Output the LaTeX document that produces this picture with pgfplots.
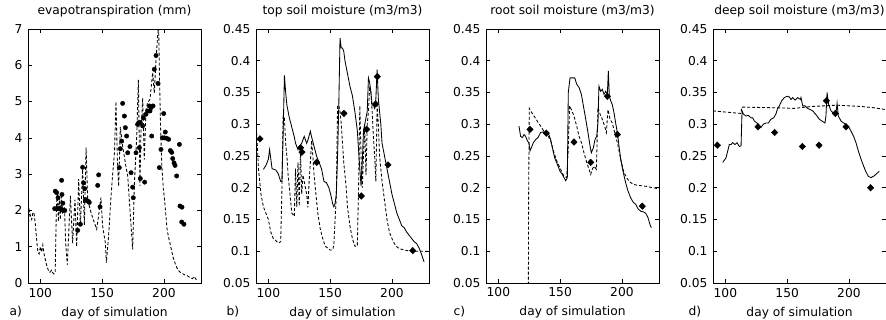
\documentclass[border=0pt]{standalone}
\usepackage{fontspec}
\setmainfont{DejaVu Sans}
\usepackage{pgfplots}
\pgfplotsset{compat=1.18}
\pgfplotsset{
  panel/.style={
    scale only axis, width=173bp, height=254bp, anchor=south west,
    xmin=90, xmax=230, xtick={100,150,200}, xticklabels={100,150,200},
    tick align=inside, major tick length=4bp,
    axis line style={line width=0.6bp},
    every tick/.style={black, line width=0.6bp},
    tick label style={font=\fontsize{12.3}{14}\selectfont},
    xticklabel style={anchor=base, yshift=-14bp},
    yticklabel style={anchor=east, xshift=-2bp},
    title style={at={(axis description cs:0.5,1)}, anchor=base, yshift=9bp, font=\fontsize{12.3}{14}\selectfont},
    xlabel={day of simulation},
    xlabel style={at={(axis description cs:0.5,0)}, anchor=base, yshift=-33bp, font=\fontsize{12.3}{14}\selectfont},
    /pgf/number format/assume math mode=true,
  },
  soil/.style={ymin=0.05, ymax=0.45,
    ytick={0.05,0.1,0.15,0.2,0.25,0.3,0.35,0.4,0.45},
    yticklabels={0.05,0.1,0.15,0.2,0.25,0.3,0.35,0.4,0.45}},
  dline/.style={black, line width=0.85bp, dash pattern=on 3bp off 2bp, mark=none},
  sline/.style={black, line width=0.85bp, mark=none},
  obs/.style={only marks, mark=diamond*, mark size=3.3bp, mark options={solid, fill=black, draw=black, xscale=1.3}},
}
\begin{document}
\begin{tikzpicture}
\path[use as bounding box] (0,0) rectangle (886bp,320bp);

% ---------------- a) evapotranspiration
\begin{axis}[panel, at={(28bp,37bp)}, title={evapotranspiration (mm)},
  ymin=0, ymax=7, ytick={0,1,2,3,4,5,6,7}, yticklabels={0,1,2,3,4,5,6,7}]
\addplot[dline] coordinates {
(90,1.4)(91,2.0)(92,1.85)(93,1.75)(94,1.95)(95,1.9)(96,1.6)(97,1.2)(98,0.85)(99,0.8)
(100,1.0)(101,0.85)(102,1.05)(103,0.8)(104,0.65)(105,0.5)(106,0.4)(107,0.3)(108,0.3)
(109,0.35)(110,0.28)(111,0.25)(112,0.3)(113,2.1)(113.8,2.5)(114.6,1.7)(115.4,2.35)
(116.2,1.75)(117,2.45)(118,1.95)(119.5,2.1)(120.5,1.1)(121.8,0.5)(124.3,2.4)(126.1,1.1)
(128,2.3)(129.4,1.0)(131,2.86)(132.4,1.57)(134.2,3.13)(135.6,1.6)(137,3.73)(138.3,2.3)
(141,1.94)(143.7,1.66)(145.6,1.48)(147.7,2.0)(149,2.35)(150.4,1.57)(152.6,1.1)(153.4,0.56)
(155,1.2)(155.8,1.6)(157,2.3)(158.5,3.0)(160,3.6)(161.2,5.0)(162.3,3.4)(163.4,2.67)
(164.7,4.3)(166.6,3.77)(169.3,3.2)(170.7,2.95)(173.4,1.57)(174.7,0.93)(176,2.67)(178,4.05)
(179.3,5.6)(180.6,2.67)(181.4,4.14)(182.8,5.1)(184.1,3.4)(185.5,4.78)(186.8,4.97)(188.7,5.06)
(190.9,5.8)(192.2,5.24)(193.6,6.16)(194.9,6.8)(195.7,7.1)(196.5,5.5)(197.3,4.3)(198.2,3.3)
(199.5,2.6)(200.5,2.3)(201.5,1.9)(202.5,1.5)(203.5,1.3)(204.5,1.15)(205.5,1.0)(206.5,0.85)
(207.5,0.7)(208.5,0.6)(209.5,0.5)(210.5,0.42)(211.5,0.36)(213,0.3)(215,0.26)(217,0.22)
(219,0.2)(221,0.15)(223,0.12)(224.5,0.18)(226,0.1)(228,0.08)
};
\addplot[only marks, mark=*, mark size=2.2bp, black] coordinates {
(112.1,2.53)(113.2,2.49)(114.3,2.35)(111.6,2.05)(114.0,2.05)(115.5,2.05)(117.2,2.83)
(117.5,2.44)(118.2,2.2)(117.0,2.03)(118.5,2.0)(119.8,2.0)(130.2,1.45)(132.4,1.62)
(134.2,3.19)(135.0,2.76)(135.9,2.6)(136.4,2.3)(137.7,2.27)(138.8,2.25)(139.6,2.22)
(146.4,2.69)(147.2,2.98)(148.3,2.1)
(163.9,3.18)(164.7,3.7)(165.8,3.91)(166.6,4.95)(168,4.6)(168.8,4.28)(169.8,4.05)
(170.7,3.59)(172.5,3.76)(173.4,3.04)(174.7,2.64)(175.2,2.35)(177.4,3.59)(178.7,4.37)
(179.6,4.42)(180.9,4.42)(180.1,3.73)(180.9,2.88)(182.8,4.33)(183.3,4.55)(184.4,2.78)
(185.5,4.65)(186.8,4.74)(188.2,4.88)(188.7,4.74)(189.5,4.83)(190.1,4.05)(191.2,4.88)
(192.2,5.89)(193.6,6.27)(195.2,5.5)(196.3,3.18)(197.6,3.68)(198.7,4.0)(199.8,4.67)
(200.3,4.0)(201.1,4.16)(202.2,3.99)(203.8,3.96)(205.2,3.65)(206.3,3.6)(207.1,3.43)
(208.2,3.31)(209,3.24)(210.3,2.95)(212.5,3.82)(213,2.12)(214.6,2.09)(214.4,1.68)(216.2,1.62)
};
\end{axis}

% ---------------- b) top soil moisture
\begin{axis}[panel, soil, at={(256bp,37bp)}, title={top soil moisture (m3/m3)}]
\addplot[sline] coordinates {
(96,0.229)(98,0.235)(100,0.245)(101,0.26)(102,0.245)(103,0.23)(106,0.228)(108,0.222)
(110,0.21)(111,0.21)(112,0.289)(113,0.377)(114,0.35)(115,0.33)(117,0.31)(119,0.295)
(121,0.28)(122,0.27)(124,0.26)(125,0.265)(127,0.27)(129,0.281)(131,0.27)(132,0.275)
(134,0.289)(135,0.28)(137,0.265)(139,0.25)(141,0.24)(143,0.23)(145,0.21)(147,0.208)
(149,0.2)(151,0.185)(152,0.175)(153,0.17)(154,0.175)(155,0.19)(156,0.25)(157,0.33)
(158,0.436)(159,0.42)(160,0.42)(161,0.415)(162,0.4)(164,0.38)(166,0.36)(168,0.345)
(170,0.32)(172,0.29)(173,0.26)(174,0.23)(175,0.203)(176,0.24)(177,0.29)(178,0.3)
(179,0.31)(180,0.32)(181,0.373)(182,0.365)(183,0.35)(184,0.33)(185,0.33)(186,0.325)
(187,0.34)(188,0.386)(189,0.34)(190,0.32)(191,0.3)(192,0.27)(194,0.25)(196,0.23)
(198,0.21)(200,0.19)(202,0.175)(204,0.16)(206,0.15)(208,0.14)(210,0.137)(212,0.13)
(214,0.125)(216,0.12)(218,0.115)(220,0.112)(222,0.105)(224,0.095)(226,0.083)
};
\addplot[dline] coordinates {
(90,0.302)(91,0.27)(92,0.23)(94,0.19)(96,0.17)(98,0.16)(100,0.15)(102,0.13)(104,0.12)
(106,0.117)(108,0.113)(110,0.115)(111,0.2)(112,0.313)(113,0.31)(114,0.27)(115,0.25)
(116,0.22)(117,0.2)(118,0.18)(119,0.16)(121,0.155)(122,0.23)(123,0.17)(124,0.24)
(125,0.171)(126,0.26)(127,0.19)(128,0.22)(129,0.21)(130,0.2)(131,0.19)(132,0.169)
(133,0.21)(134,0.24)(135,0.274)(136,0.25)(137,0.22)(138,0.2)(139,0.18)(140,0.16)
(142,0.135)(144,0.12)(146,0.108)(148,0.105)(150,0.102)(152,0.102)(153,0.11)(154,0.15)
(155,0.187)(156,0.329)(157,0.33)(158,0.32)(159,0.3)(160,0.27)(161,0.24)(162,0.22)
(163,0.2)(164,0.17)(166,0.14)(168,0.12)(170,0.108)(172,0.108)(173,0.2)(174,0.329)
(175,0.25)(176,0.2)(177,0.25)(178,0.3)(179,0.22)(180,0.3)(181,0.32)(182,0.36)(183,0.35)
(184,0.32)(185,0.28)(186,0.25)(187,0.21)(188,0.33)(189,0.3)(190,0.25)(192,0.21)
(194,0.18)(196,0.15)(198,0.13)(200,0.12)(202,0.112)(204,0.107)(206,0.104)(210,0.102)
(215,0.1)(220,0.1)(225,0.1)(230,0.1)
};
\addplot[obs] coordinates {
(93.2,0.277)(126.1,0.263)(127.2,0.256)(139.1,0.24)(161.2,0.317)(175.2,0.187)
(179.6,0.292)(186.8,0.332)(188.2,0.375)(196.8,0.236)(216.8,0.101)
};
\end{axis}

% ---------------- c) root soil moisture
\begin{axis}[panel, soil, at={(486bp,37bp)}, title={root soil moisture (m3/m3)}]
\addplot[sline] coordinates {
(116.7,0.297)(118,0.281)(119.4,0.279)(120.8,0.284)(122,0.281)(123.5,0.274)(124.8,0.27)
(125.6,0.258)(126.7,0.263)(128.3,0.271)(130.2,0.276)(132.1,0.279)(134.2,0.287)(136.4,0.288)
(138.3,0.284)(140.2,0.287)(142.3,0.276)(143.7,0.263)(145.6,0.247)(147.7,0.237)(149.9,0.226)
(151.8,0.221)(153.1,0.216)(154.5,0.211)(155.8,0.216)(156.6,0.35)(158,0.373)(159.9,0.373)
(161.8,0.373)(163.4,0.363)(165.3,0.358)(167.2,0.347)(168.8,0.329)(170.7,0.308)(172.5,0.287)
(174.2,0.266)(175.2,0.255)(176.9,0.263)(178.2,0.276)(179.6,0.281)(180.6,0.302)(181.4,0.36)
(182.8,0.352)(184.1,0.355)(185.5,0.347)(186.8,0.352)(188.2,0.347)(189,0.384)(189.8,0.344)
(190.9,0.337)(192.2,0.331)(193.6,0.318)(194.9,0.302)(196.3,0.287)(197.6,0.266)(199,0.245)
(201.1,0.224)(203,0.208)(204.9,0.195)(207.1,0.184)(209.2,0.177)(211.1,0.174)(213,0.167)
(215.2,0.163)(217.3,0.162)(219.2,0.16)(221.1,0.153)(222.7,0.142)(223.8,0.137)
};
\addplot[dline] coordinates {
(124.2,0.0)(124.5,0.19)(125,0.325)(126.1,0.321)(128.8,0.313)(131.5,0.305)(134.2,0.297)
(136.9,0.289)(139.6,0.284)(142.3,0.274)(145,0.255)(147.7,0.24)(150.4,0.229)(153.1,0.218)
(155.3,0.216)(156.4,0.255)(157.7,0.329)(159.1,0.323)(161.2,0.313)(163.4,0.297)(165.3,0.281)
(167.2,0.271)(169.3,0.255)(171.5,0.24)(173.4,0.229)(174.7,0.221)(176,0.229)(177.4,0.234)
(179.3,0.229)(180.6,0.326)(182.3,0.316)(184.1,0.308)(186,0.297)(187.4,0.287)(188.7,0.323)
(190.4,0.308)(192.2,0.302)(194.1,0.287)(196.3,0.271)(199,0.245)(201.6,0.224)(204.4,0.214)
(207.1,0.208)(209.8,0.205)(212.5,0.204)(216.5,0.203)(220.6,0.202)(224.6,0.2)(228.1,0.199)(230,0.199)
};
\addplot[obs] coordinates {
(125.6,0.292)(138.8,0.286)(161.2,0.272)(174.7,0.24)(188.2,0.344)(196.3,0.284)(216.5,0.171)
};
\end{axis}

% ---------------- d) deep soil moisture
\begin{axis}[panel, soil, at={(713bp,37bp)}, title={deep soil moisture (m3/m3)}]
\addplot[sline] coordinates {
(97.8,0.24)(100.5,0.247)(103.2,0.268)(104.5,0.268)(105.9,0.271)(107.8,0.268)(109.4,0.271)
(111.3,0.265)(112.7,0.266)(113.5,0.321)(114.6,0.316)(116.7,0.313)(118.6,0.314)(120.8,0.31)
(122.1,0.31)(123.5,0.305)(125.6,0.302)(127.5,0.297)(128.8,0.295)(130.7,0.3)(132.9,0.302)
(134.8,0.302)(136.9,0.308)(139.1,0.31)(140.9,0.316)(142.3,0.325)(143.7,0.329)(145.6,0.337)
(147.7,0.342)(149.9,0.344)(151.8,0.343)(153.1,0.339)(154.5,0.342)(156.4,0.338)(158.5,0.342)
(160.7,0.339)(161.2,0.342)(162.6,0.329)(164.5,0.329)(166.6,0.325)(168.8,0.323)(170.7,0.321)
(172.5,0.317)(174.2,0.313)(176,0.308)(178.2,0.305)(180.6,0.302)(181.4,0.313)(182.3,0.35)
(182.8,0.342)(183.6,0.331)(185.5,0.321)(187.7,0.317)(189.5,0.317)(190.4,0.333)(191.4,0.313)
(193.6,0.305)(195.7,0.302)(197.6,0.3)(199.5,0.297)(201.7,0.289)(203.8,0.281)(205.7,0.271)
(207.6,0.258)(209.8,0.245)(211.9,0.234)(213.8,0.225)(215.7,0.218)(217.8,0.216)(219.9,0.218)
(221.8,0.221)(224.5,0.226)
};
\addplot[dline] coordinates {
(90,0.321)(112.7,0.317)(113.2,0.327)(140,0.326)(155.8,0.325)(170,0.328)(190,0.33)
(210,0.328)(220,0.326)(230,0.323)
};
\addplot[obs] coordinates {
(93.5,0.267)(126.4,0.296)(139.9,0.287)(162.3,0.265)(175.8,0.267)(181.8,0.337)(189,0.317)
(197.6,0.296)(217.5,0.2)
};
\end{axis}

\node[anchor=base west, font=\fontsize{12.3}{14}\selectfont] at (6bp,5bp) {a)};
\node[anchor=base west, font=\fontsize{12.3}{14}\selectfont] at (223bp,5bp) {b)};
\node[anchor=base west, font=\fontsize{12.3}{14}\selectfont] at (450bp,5bp) {c)};
\node[anchor=base west, font=\fontsize{12.3}{14}\selectfont] at (685bp,5bp) {d)};
\end{tikzpicture}
\end{document}
